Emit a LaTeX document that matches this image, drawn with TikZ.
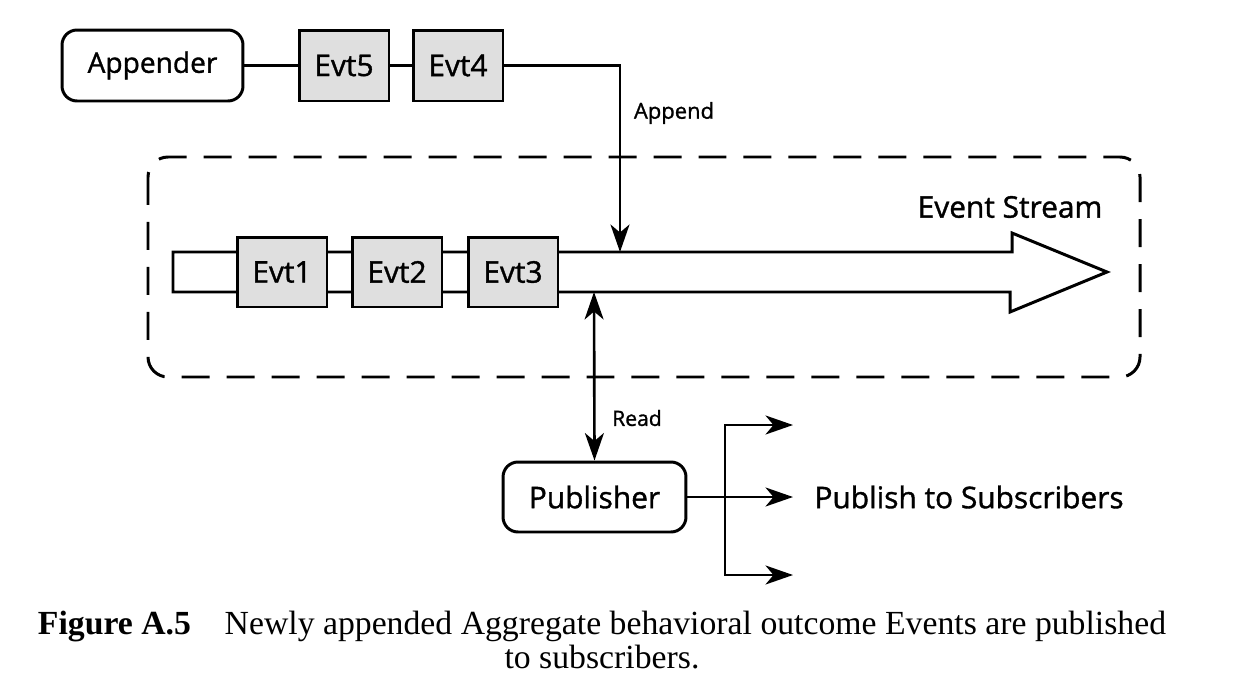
\documentclass[tikz,border=0pt]{standalone}
\usepackage{fontspec}
\setmainfont{Liberation Serif}
\newfontfamily\handfont[FakeBold=1.2]{Open Sans}
\usepackage{tikz}
\usetikzlibrary{positioning,arrows.meta}

\tikzset{
    box/.style={draw, line width=1.7pt, minimum height=1.42cm,
        font=\handfont\fontsize{17}{20}\selectfont},
    roundbox/.style={box, rounded corners=0.3cm, minimum width=3.62cm},
    evtbox/.style={box, fill=gray!25, minimum width=1.8cm, minimum height=1.4cm},
    conn/.style={line width=1.5pt},
    >={Stealth[length=0.55cm, width=0.38cm, inset=0.16cm]},
    label/.style={font=\handfont\fontsize{12}{14}\selectfont}
}

\begin{document}
\begin{tikzpicture}[x=0.02cm, y=-0.02cm]
    \useasboundingbox (0,0) rectangle (1258,700);

    % Event stream container
    \draw[line width=1.7pt, dash pattern=on 0.56cm off 0.34cm, rounded corners=0.4cm]
        (148,157) rectangle (1140,377);
    \node[box, draw=none, inner sep=0pt, minimum height=0pt] (streamlabel) at (1010,207) {Event Stream};

    % Stream arrow
    \draw[line width=1.7pt, fill=white]
        (173,252) -- (1012,252) -- (1012,233) -- (1107,272) --
        (1010,312) -- (1010,292) -- (173,292) -- cycle;
    \coordinate (appendpt) at (620,252);
    \coordinate (readpt) at (594,292);

    % Stored events
    \foreach \x/\i in {282/1, 397/2, 513/3} {
        \node[evtbox] (evt\i) at (\x,272) {Evt\i};
    }

    % Appender with pending events
    \node[roundbox, font=\handfont\fontsize{16}{19}\selectfont] (appender) at (152.5,65.5) {Appender};
    \node[evtbox, minimum height=1.42cm] (evt5) at (344,65.5) {Evt5};
    \node[evtbox, minimum height=1.42cm] (evt4) at (458,65.5) {Evt4};
    \draw[conn] (appender) -- (evt5);
    \draw[conn] (evt5) -- (evt4);
    \draw[conn, ->] (evt4.east) -| (appendpt);
    \node[label, font=\handfont\fontsize{12.5}{15}\selectfont] (appendlabel) at (674,113) {Append};

    % Publisher
    \node[roundbox, minimum width=3.66cm, minimum height=1.4cm] (publisher) at (594.5,497) {Publisher};
    \draw[conn, <->] (readpt) -- (publisher.north);
    \node[label] (readlabel) at (637,418) {Read};

    % Fan out to subscribers
    \coordinate (fork) at (725,497);
    \coordinate (pubmid) at (793,497);
    \coordinate (pubtop) at (793,425);
    \coordinate (pubbot) at (793,575);
    \draw[conn, ->] (publisher.east) -- (pubmid);
    \draw[conn, ->] (fork) |- (pubtop);
    \draw[conn, ->] (fork) |- (pubbot);
    \node[box, draw=none, anchor=west, inner sep=0pt] (publabel) at (813,497) {Publish to Subscribers};

    % Caption
    \node[align=center, font=\fontsize{19.2}{19.3}\selectfont] (caption) at (602,640)
        {\textbf{Figure A.5}\quad Newly appended Aggregate behavioral outcome Events are published\\to subscribers.};
\end{tikzpicture}
\end{document}
